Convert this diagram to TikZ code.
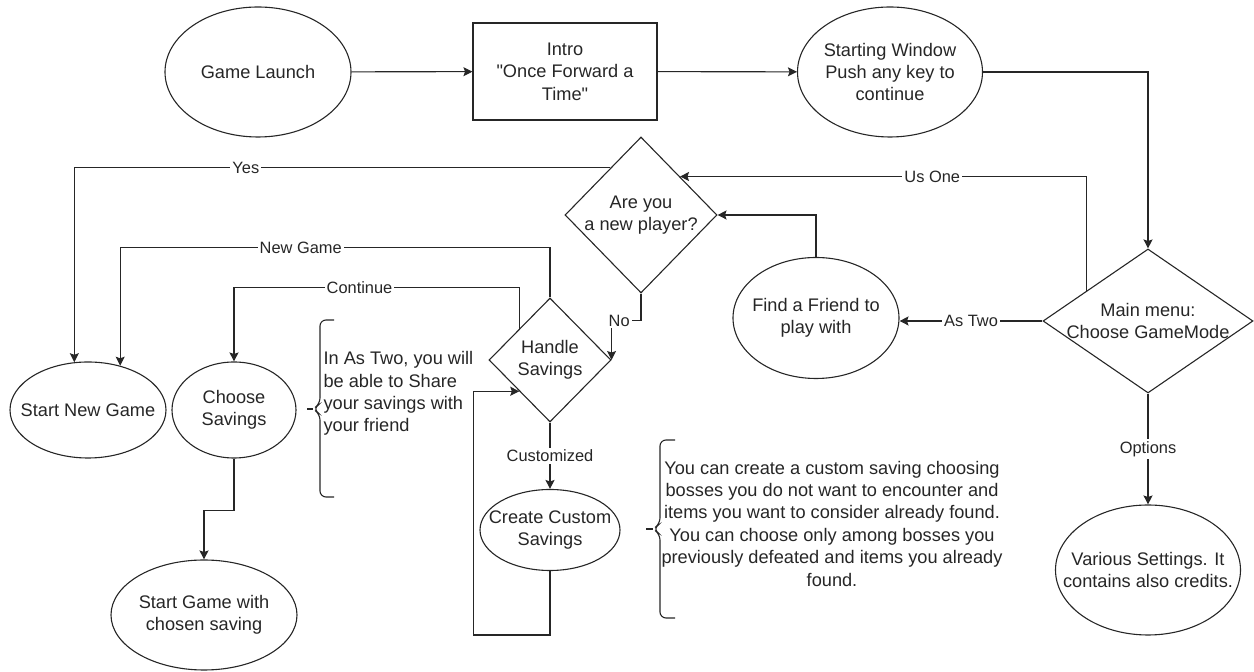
\documentclass[tikz,border=0pt]{standalone}
\usepackage{fontspec}
\setmainfont{Liberation Sans}
\usetikzlibrary{positioning,calc,arrows.meta,shapes.geometric}
\tikzset{font=\fontsize{9.1}{11.2}\selectfont}
\tikzset{
	oval/.style={ellipse, draw, inner sep=0pt},
	choice/.style={diamond, draw, inner sep=0pt},
	box/.style={rectangle, draw, align=center},
	txt/.style={align=center, inner sep=0pt},
	lbl/.style={fill=white, inner sep=1pt, font=\fontsize{8.2}{9}\selectfont},
	note/.style={inner sep=0pt}
}

\begin{document}
\begin{tikzpicture}[x=0.5pt, y=-0.5pt, black!85, line width=0.55pt, >={Stealth[length=4.5pt, width=4.5pt, inset=0.8pt]}]
	\useasboundingbox (0,0) rectangle (1254,672);
	\begin{scope}
		\tikzstyle{every node}=[align=center]
		\node[oval, minimum width=93pt, minimum height=65pt, label={[txt]center:{Game Launch}}] (launch) at (258, 72) {};
		\node[box, minimum width=92pt, minimum height=48.5pt] (intro) at (565, 71.5) {Intro\\\textquotedbl Once Forward a\\Time\textquotedbl};
		\node[oval, minimum width=92.5pt, minimum height=65pt, label={[txt]center:{Starting Window\\Push any key to\\continue}}] (startwin) at (890, 72) {};
		\node[choice, minimum width=105pt, minimum height=72pt, label={[txt]center:{Main menu:\\Choose GameMode}}] (menu) at (1148, 321) {};
		\node[choice, minimum width=76pt, minimum height=78pt, label={[txt]center:{Are you\\a new player?}}] (ayp) at (641, 215) {};
		\node[oval, minimum width=83pt, minimum height=60.5pt, label={[txt]center:{Find a Friend to\\play with}}] (friend) at (816, 318) {};
		\node[choice, minimum width=61pt, minimum height=62pt, label={[txt]center:{Handle\\Savings}}] (handle) at (550, 360) {};
		\node[oval, minimum width=78pt, minimum height=48pt, label={[txt]center:{Start New Game}}] (newgame) at (88, 410) {};
		\node[oval, minimum width=62pt, minimum height=48pt, label={[txt]center:{Choose\\Savings}}] (choose) at (234, 410) {};
		\node[oval, minimum width=93pt, minimum height=55pt, label={[txt]center:{Start Game with\\chosen saving}}] (startgame) at (204, 615) {};
		\node[oval, minimum width=70pt, minimum height=40.5pt, label={[txt]center:{Create Custom\\Savings}}] (custom) at (550, 530) {};
		\node[oval, minimum width=92.5pt, minimum height=65pt, label={[txt]center:{Various Settings. It\\contains also credits.}}] (settings) at (1148, 570) {};
		\node[note, anchor=west, align=left] (sharenote) at (323, 393.5) {In As Two, you will\\ be able to Share\\your savings with\\ your friend};
		\node[note] (customnote) at (832, 523.5) {You can create a custom saving choosing\\bosses you do not want to encounter and\\items you want to consider already found.\\You can choose only among bosses you\\previously defeated and items you already\\found.};

		\draw[->] (launch) -- (intro);
		\draw[->] (intro) -- (startwin);
		\draw[->] (startwin.east) -| (menu.north);
		\draw[->] ($(menu.west)!0.42!(menu.north)$) |- ($(ayp.north)!0.51!(ayp.east)$) node[lbl, pos=0.69] {Us One};
		\draw[->] (menu.west) -- (menu.west -| friend.east) node[lbl, midway] {As Two};
		\draw[->] (friend.north) |- (ayp.east);
		\draw[->] ($(ayp.west)!0.6!(ayp.north)$) -| (newgame.106) node[lbl, pos=0.34] {Yes};
		\draw[->] (ayp.south) -- ++(0,27) -| (handle.east) node[lbl, pos=0.37] {No};
		\draw[->] (handle.north) -- ++(0,-50) -| (newgame.54) node[lbl, pos=0.29] {New Game};
		\draw[->] (handle.north west) -- ++(0,-41) -| (choose.north) node[lbl, pos=0.28] {Continue};
		\draw[->] (choose.south) -- ++(0,52) -| (startgame.north);
		\draw[->] (handle.south) -- (custom.north) node[lbl, midway] {Customized};
		\draw[->] (custom.south) -- ++(0,64) -| ($(handle.south west)+(-46,0)$) -- (handle.south west);
		\draw[->] (menu.south) -- (settings.north) node[lbl, midway] {Options};

		\draw[rounded corners=3pt] (334,320) -- (320,320) -- (320,404) -- (313,409) -- (320,414) -- (320,497) -- (334,497);
		\draw (307,409) -- (313,409);
		\draw[rounded corners=3pt] (675,440) -- (660,440) -- (660,524) -- (653,529) -- (660,534) -- (660,618) -- (675,618);
		\draw (646,529) -- (653,529);
	\end{scope}
\end{tikzpicture}
\end{document}
